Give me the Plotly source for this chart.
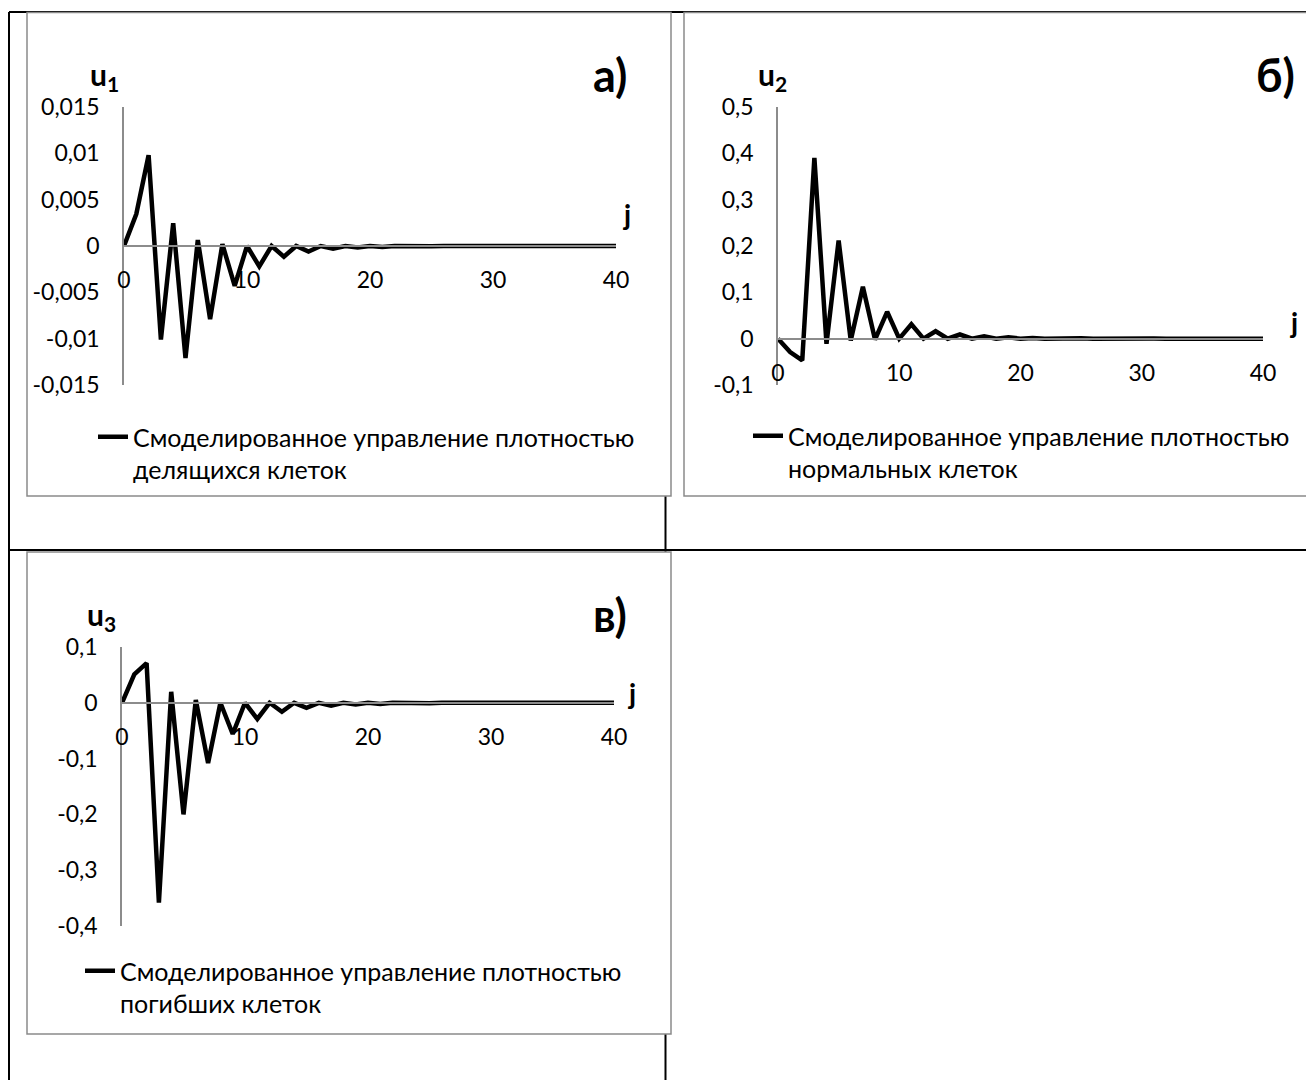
import plotly.graph_objects as go

# Figure fills the browser viewport exactly once the 8px body margin is added
OFF = 8
W, H = 1314 - OFF, 1080 - OFF

j = list(range(41))

u1 = [0, 0.00345, 0.0098, -0.0101, 0.00245, -0.0121, 0.00065, -0.0079, 0.0002, -0.0043,
      0.0, -0.0022, 0.0, -0.00115, 0.0, -0.0006, 0.0, -0.0003, 0.0, -0.00017,
      0.0, -0.0001, 0.0, -0.00005, 0.0, -0.00003, 0.0, 0.0, 0.0, 0.0,
      0.0, 0.0, 0.0, 0.0, 0.0, 0.0, 0.0, 0.0, 0.0, 0.0, 0.0]

u2 = [0, -0.029, -0.047, 0.39, -0.011, 0.212, -0.004, 0.112, -0.002, 0.058,
      0.0, 0.031, 0.0, 0.016, 0.0, 0.009, 0.0, 0.005, 0.0, 0.003,
      0.0, 0.0015, 0.0, 0.001, 0.0, 0.0008, 0.0, 0.0005, 0.0, 0.0004,
      0.0, 0.0003, 0.0, 0.0002, 0.0, 0.0, 0.0, 0.0, 0.0, 0.0, 0.0]

u3 = [0, 0.051, 0.071, -0.358, 0.0197, -0.2, 0.005, -0.108, 0.0, -0.056,
      0.0, -0.029, 0.0, -0.016, 0.0, -0.009, 0.0, -0.005, 0.0, -0.003,
      0.0, -0.002, 0.0, -0.001, 0.0, -0.001, 0.0, 0.0, 0.0, 0.0,
      0.0, 0.0, 0.0, 0.0, 0.0, 0.0, 0.0, 0.0, 0.0, 0.0, 0.0]

x_ticks = [0, 10, 20, 30, 40]
x_ticktext = ["0", "10", "20", "30", "40"]

y1_ticks = [-0.015, -0.01, -0.005, 0, 0.005, 0.01, 0.015]
y1_text = ["-0,015", "-0,01", "-0,005", "0", "0,005", "0,01", "0,015"]
y2_ticks = [-0.1, 0, 0.1, 0.2, 0.3, 0.4, 0.5]
y2_text = ["-0,1", "0", "0,1", "0,2", "0,3", "0,4", "0,5"]
y3_ticks = [-0.4, -0.3, -0.2, -0.1, 0, 0.1]
y3_text = ["-0,4", "-0,3", "-0,2", "-0,1", "0", "0,1"]

legend_texts = [
    "Смоделированное управление плотностью<br>делящихся клеток",
    "Смоделированное управление плотностью<br>нормальных клеток",
    "Смоделированное управление плотностью<br>погибших клеток",
]

FONT = "Lato, 'Noto Sans', sans-serif"
FS = 23
LFS = 25
AXIS_GREY = "#8c8c8c"
FRAME_GREY = "#8a8a8a"


def px(x):
    return (x - OFF) / W


def py(y):
    return 1 - (y - OFF) / H


# panel pixel geometry (screen px): (x0, x1, ytop, ybottom, ymin, ymax)
panels = [
    (124, 616, 107, 385, -0.015, 0.015),
    (778, 1263, 107, 385, -0.1, 0.5),
    (122, 614, 647, 926, -0.4, 0.1),
]

fig = go.Figure()
series = [u1, u2, u3]
for i, s in enumerate(series):
    suffix = "" if i == 0 else str(i + 1)
    fig.add_trace(go.Scatter(
        x=j, y=s, mode="lines",
        line=dict(color="black", width=4.5),
        name=legend_texts[i],
        xaxis="x" + suffix, yaxis="y" + suffix,
        legend="legend" + suffix,
        showlegend=True,
    ))

yticks = [(y1_ticks, y1_text), (y2_ticks, y2_text), (y3_ticks, y3_text)]
layout = dict(
    width=W, height=H,
    margin=dict(l=0, r=0, t=0, b=0, pad=0, autoexpand=False),
    paper_bgcolor="white", plot_bgcolor="rgba(0,0,0,0)",
    font=dict(family=FONT, size=FS, color="black"),
)

for i, (x0, x1, yt, yb, ymin, ymax) in enumerate(panels):
    suffix = "" if i == 0 else str(i + 1)
    ydom = [py(yb), py(yt)]
    zero_pos = ydom[0] + (0 - ymin) / (ymax - ymin) * (ydom[1] - ydom[0])
    layout["xaxis" + suffix] = dict(
        domain=[px(x0), px(x1)], range=[0, 40],
        anchor="free", position=zero_pos,
        tickvals=x_ticks, ticktext=x_ticktext,
        showline=True, linecolor=AXIS_GREY, linewidth=1.5,
        showgrid=False, zeroline=False, ticks="",
        ticklabelstandoff=14, automargin=False,
        tickfont=dict(family=FONT, size=FS),
    )
    layout["yaxis" + suffix] = dict(
        domain=ydom, range=[ymin, ymax],
        anchor="x" + suffix,
        tickvals=yticks[i][0], ticktext=yticks[i][1],
        showline=True, linecolor=AXIS_GREY, linewidth=1.5,
        showgrid=False, zeroline=False, ticks="",
        ticklabelstandoff=18, automargin=False,
        tickfont=dict(family=FONT, size=FS),
    )

# legends (screen px of legend box top-left)
legend_pos = [(93, 414), (748, 413), (80, 948)]
for i, (lx, ly) in enumerate(legend_pos):
    suffix = "" if i == 0 else str(i + 1)
    layout["legend" + suffix] = dict(
        x=px(lx), y=py(ly), xanchor="left", yanchor="top",
        bgcolor="rgba(0,0,0,0)", borderwidth=0,
        font=dict(family=FONT, size=LFS, color="black"),
        valign="top", itemwidth=30,
    )

shapes = []
# table lines
for (x0, y0, x1, y1) in [(9, 12, 9, 1095), (9, 12, 1330, 12), (9, 550, 1330, 550), (665.5, 12, 665.5, 1095)]:
    shapes.append(dict(type="line", xref="paper", yref="paper",
                       x0=px(x0), y0=py(y0), x1=px(x1), y1=py(y1),
                       line=dict(color="black", width=2), layer="below"))
# chart frames
for (x0, y0, x1, y1) in [(27, 12.5, 671, 496), (684, 12.5, 1340, 496), (27, 552, 671, 1034)]:
    shapes.append(dict(type="rect", xref="paper", yref="paper",
                       x0=px(x0), y0=py(y0), x1=px(x1), y1=py(y1),
                       line=dict(color=FRAME_GREY, width=1.5), fillcolor="white", layer="below"))
layout["shapes"] = shapes

ann = []
for (txt, x, y, size) in [
    ("<b>u<sub>1</sub></b>", 104, 76, 30),
    ("<b>а)</b>", 610, 75, 45),
    ("<b>j</b>", 626, 214, 28),
    ("<b>u<sub>2</sub></b>", 772, 76, 30),
    ("<b>б)</b>", 1275, 75, 45),
    ("<b>j</b>", 1293, 322, 28),
    ("<b>u<sub>3</sub></b>", 101, 616, 30),
    ("<b>в)</b>", 610, 615, 45),
    ("<b>j</b>", 631, 693, 28),
]:
    ann.append(dict(text=txt, x=px(x), y=py(y), xref="paper", yref="paper",
                    showarrow=False, xanchor="center", yanchor="middle",
                    font=dict(family=FONT, size=size, color="black")))
layout["annotations"] = ann

fig.update_layout(**layout)
fig.write_html("out.html")
